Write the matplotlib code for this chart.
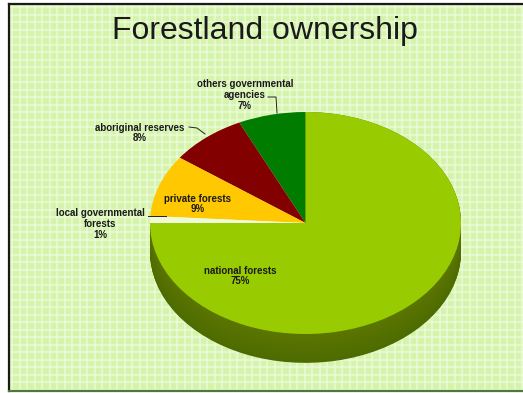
import numpy as np
import matplotlib
matplotlib.use("Agg")
import matplotlib.pyplot as plt
from matplotlib.patches import Rectangle

# ---- data ----
categories = ["others governmental\nagencies", "aboriginal reserves", "private forests",
              "local governmental\nforests", "national forests"]
shares = [7, 8, 9, 1, 75]
pct_labels = ["7%", "8%", "9%", "1%", "75%"]
title = "Forestland ownership"

top_colors = ["#007d00", "#820000", "#ffc800", "#eefad8", "#99cc00"]

W, H = 523, 393
fig = plt.figure(figsize=(W / 100, H / 100), dpi=100)
fig.patch.set_facecolor("white")

# background (pixel coordinates)
bg = fig.add_axes([0, 0, 1, 1])
bg.set_xlim(0, W)
bg.set_ylim(H, 0)
bg.axis("off")
bg.add_patch(Rectangle((9, 4), W - 9, 387, facecolor="#d5f4ab", edgecolor="none", zorder=0))
for x in np.arange(12, W, 7.5):
    bg.plot([x, x], [4, 391], color="#f2fde6", lw=1.6, alpha=0.55, zorder=0.5)
for y in np.arange(7, 391, 7.5):
    bg.plot([9, W], [y, y], color="#f2fde6", lw=1.6, alpha=0.55, zorder=0.5)
bg.plot([9, 9], [4, 391], color="#1a1a1a", lw=1.6, zorder=1)
bg.plot([9, W], [4, 4], color="#1a1a1a", lw=1.6, zorder=1)
bg.plot([9, W], [391, 391], color="#4f7a3a", lw=1.6, zorder=1)

bg.text(265, 31, title, ha="center", va="center", fontsize=23,
        family="Liberation Sans", color="#1a1a1a")

# pie axes: top face spans x 150..461, y 112..334 px
depth = 0.26
ylo = -1.3
cx_px, cy_px, rx_px, ry_px = 305.5, 223, 155.5, 111
left = (cx_px - rx_px) / W
width = 2 * rx_px / W
top_px = cy_px - ry_px
bot_px = cy_px - ylo * ry_px
pax = fig.add_axes([left, (H - bot_px) / H, width, (bot_px - top_px) / H])
pax.patch.set_alpha(0)

# side (depth) layers: only the front part is visible
n_layers = 40
for i, k in enumerate(np.linspace(depth, 0.0, n_layers)):
    shade = [0.30 + 0.06 * (i / n_layers), 0.42 + 0.04 * (i / n_layers), 0.0]
    cols = ["none"] * (len(shares) - 1) + [shade]
    pax.pie(shares, colors=cols, startangle=90, counterclock=True,
            center=(0, -k), radius=1, wedgeprops=dict(linewidth=0))
# top face
pax.pie(shares, colors=top_colors, startangle=90, counterclock=True,
        center=(0, 0), radius=1, wedgeprops=dict(linewidth=0))
pax.set_aspect("auto")
pax.set_xlim(-1, 1)
pax.set_ylim(ylo, 1)
pax.axis("off")

# overlay for labels (pixel coordinates)
ov = fig.add_axes([0, 0, 1, 1])
ov.set_xlim(0, W)
ov.set_ylim(H, 0)
ov.axis("off")
ov.patch.set_alpha(0)

lab_kw = dict(ha="center", va="center", fontsize=7.0, family="Liberation Sans",
              fontweight="bold", color="#1a1a1a", linespacing=1.1)
ov.text(245, 95, categories[0] + "\n" + pct_labels[0], **lab_kw)
ov.text(140, 133, categories[1] + "\n" + pct_labels[1], **lab_kw)
ov.text(198, 204, categories[2] + "\n" + pct_labels[2], **lab_kw)
ov.text(100, 224, categories[3] + "\n" + pct_labels[3], **lab_kw)
ov.text(240, 276, categories[4] + "\n" + pct_labels[4], **lab_kw)

# leader lines
ov.plot([268, 276, 277], [97, 97, 113], color="#222222", lw=0.7)
ov.plot([189, 197, 205], [127, 128, 134], color="#222222", lw=0.7)
ov.plot([148, 166], [216, 216], color="#222222", lw=0.7)

fig.savefig("out.png", dpi=100)
